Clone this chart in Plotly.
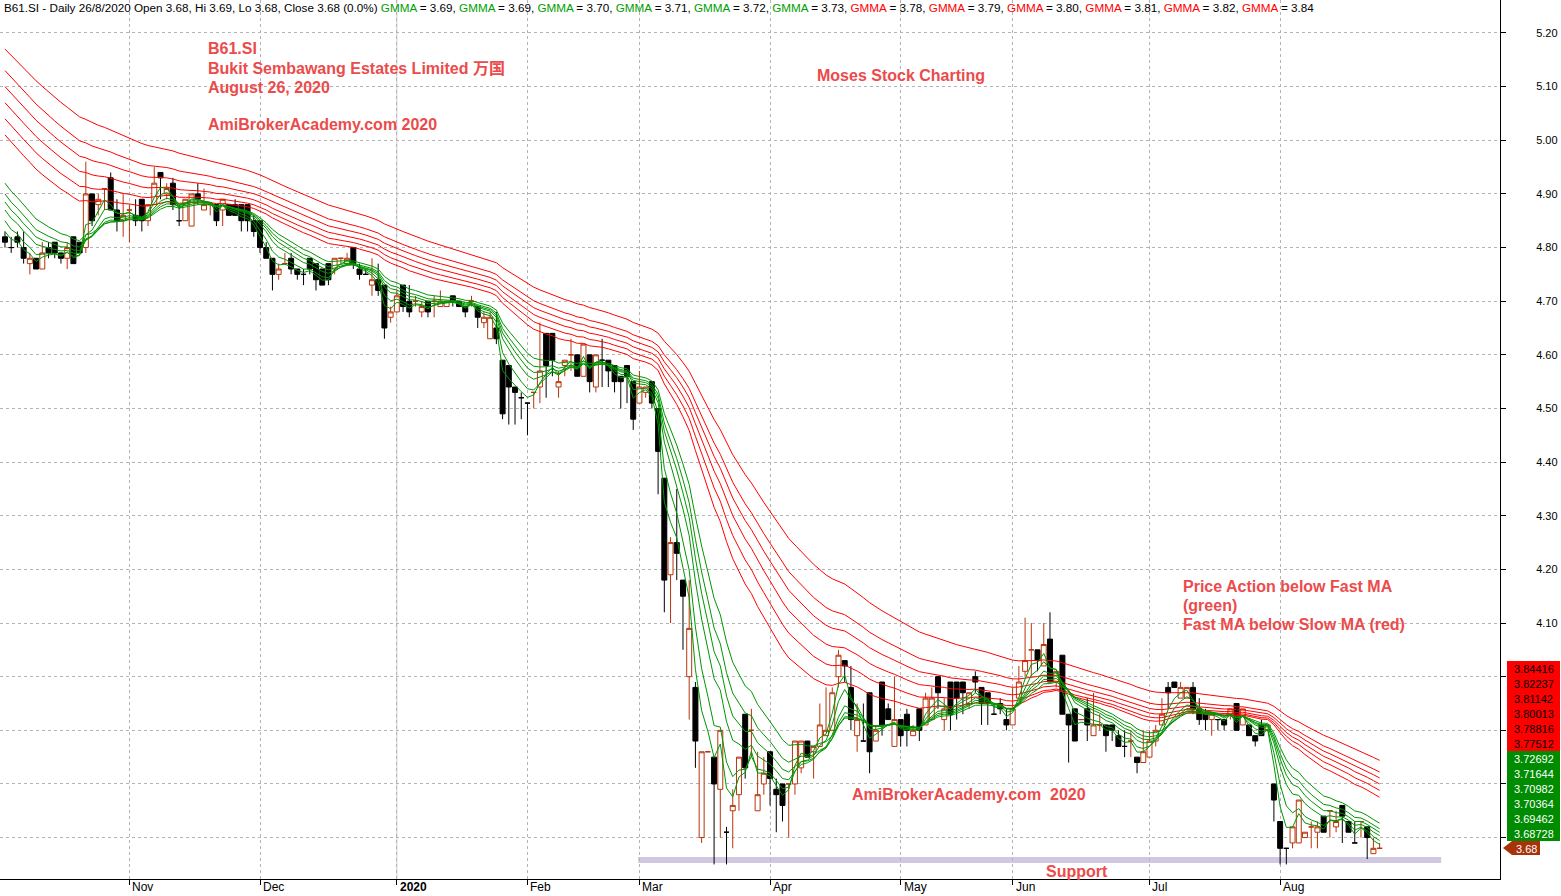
import plotly.graph_objects as go

# ---------------- data ----------------
opens = [
4.82,4.80,4.82,4.80,4.77,4.78,4.76,4.80,4.81,4.79,
4.78,4.82,4.81,4.80,4.90,4.88,4.91,4.93,4.87,4.85,
4.87,4.86,4.89,4.85,4.88,4.94,4.90,4.92,4.85,4.85,
4.84,4.90,4.87,4.88,4.88,4.87,4.88,4.88,4.88,4.88,
4.85,4.85,4.80,4.78,4.75,4.77,4.78,4.76,4.75,4.78,
4.77,4.76,4.77,4.76,4.78,4.77,4.80,4.76,4.75,4.73,
4.74,4.73,4.67,4.68,4.73,4.70,4.70,4.68,4.70,4.70,
4.69,4.69,4.71,4.70,4.69,4.70,4.69,4.66,4.63,4.65,
4.59,4.58,4.54,4.52,4.51,4.53,4.54,4.64,4.64,4.54,
4.58,4.60,4.60,4.56,4.60,4.54,4.59,4.59,4.58,4.56,
4.58,4.55,4.51,4.53,4.55,4.50,4.37,4.19,4.25,4.18,
4.00,3.98,3.70,3.86,3.85,3.79,3.71,3.75,3.78,3.93,
3.90,3.75,3.80,3.86,3.79,3.80,3.80,3.80,3.83,3.88,
3.86,3.87,3.89,3.90,4.00,4.03,3.98,3.89,3.88,3.97,
3.88,3.99,3.94,3.87,3.92,3.93,3.89,3.94,3.91,3.92,
4.00,3.92,3.99,3.99,3.99,3.95,4.00,3.98,3.97,3.93,
3.95,3.92,3.91,3.96,4.01,4.05,4.05,4.02,4.07,3.99,
4.04,3.93,3.94,3.92,3.94,3.89,3.91,3.91,3.91,3.89,
3.87,3.88,3.85,3.84,3.85,3.88,3.91,3.98,3.99,3.96,
3.96,3.98,3.94,3.93,3.92,3.92,3.92,3.93,3.95,3.91,
3.91,3.89,3.91,3.90,3.80,3.73,3.68,3.69,3.69,3.70,
3.72,3.71,3.74,3.75,3.72,3.76,3.73,3.69,3.73,3.72,
3.67,3.68]

highs = [
4.83,4.82,4.83,4.83,4.79,4.78,4.81,4.81,4.81,4.79,
4.81,4.82,4.81,4.96,4.90,4.90,4.91,4.94,4.89,4.90,
4.88,4.89,4.89,4.88,4.95,4.94,4.92,4.93,4.88,4.89,
4.90,4.92,4.91,4.88,4.88,4.89,4.88,4.89,4.88,4.88,
4.86,4.85,4.81,4.78,4.77,4.79,4.79,4.76,4.76,4.78,
4.77,4.76,4.77,4.78,4.78,4.79,4.80,4.77,4.76,4.78,
4.77,4.73,4.69,4.72,4.73,4.73,4.71,4.70,4.70,4.71,
4.72,4.70,4.71,4.70,4.69,4.71,4.69,4.68,4.68,4.68,
4.59,4.58,4.54,4.53,4.51,4.53,4.66,4.64,4.64,4.57,
4.59,4.63,4.60,4.62,4.60,4.60,4.63,4.59,4.58,4.56,
4.58,4.55,4.57,4.54,4.55,4.50,4.37,4.26,4.35,4.18,
4.18,3.99,3.86,3.86,3.85,3.90,3.72,3.79,3.85,3.93,
3.94,3.86,3.85,3.86,3.81,3.80,3.80,3.88,3.88,3.88,
3.87,3.95,3.98,3.98,4.05,4.03,4.02,3.95,3.95,3.97,
3.91,3.99,3.95,4.00,3.92,3.94,3.91,3.94,3.97,3.98,
4.00,3.96,3.99,3.99,3.99,3.97,4.01,3.98,3.97,3.95,
3.96,3.94,3.98,4.02,4.11,4.10,4.05,4.10,4.12,4.01,
4.04,3.93,3.94,3.92,3.96,3.97,3.93,3.91,3.91,3.90,
3.90,3.90,3.85,3.90,3.90,3.91,3.96,3.99,3.99,3.99,
3.98,3.99,3.96,3.94,3.93,3.92,3.92,3.94,3.95,3.94,
3.91,3.89,3.92,3.91,3.80,3.73,3.68,3.72,3.77,3.71,
3.73,3.73,3.74,3.75,3.75,3.76,3.73,3.73,3.73,3.72,
3.70,3.69]

lows = [
4.80,4.79,4.80,4.77,4.75,4.76,4.76,4.78,4.78,4.77,
4.76,4.77,4.79,4.79,4.84,4.86,4.87,4.87,4.83,4.82,
4.81,4.84,4.83,4.84,4.88,4.89,4.89,4.87,4.84,4.85,
4.84,4.88,4.87,4.86,4.84,4.84,4.86,4.86,4.83,4.83,
4.82,4.79,4.78,4.72,4.74,4.77,4.75,4.74,4.73,4.75,
4.72,4.73,4.73,4.75,4.77,4.77,4.76,4.74,4.75,4.71,
4.71,4.63,4.66,4.68,4.68,4.67,4.69,4.67,4.67,4.67,
4.69,4.69,4.69,4.69,4.67,4.69,4.65,4.65,4.63,4.62,
4.48,4.47,4.47,4.48,4.45,4.50,4.51,4.52,4.56,4.52,
4.56,4.57,4.56,4.56,4.53,4.53,4.54,4.54,4.53,4.50,
4.51,4.46,4.51,4.52,4.50,4.34,4.12,4.10,4.18,4.05,
3.92,3.83,3.69,3.86,3.65,3.70,3.65,3.68,3.75,3.81,
3.85,3.75,3.78,3.76,3.71,3.73,3.70,3.78,3.82,3.85,
3.81,3.87,3.89,3.90,3.98,3.99,3.90,3.86,3.88,3.82,
3.88,3.89,3.92,3.87,3.87,3.87,3.89,3.88,3.91,3.92,
3.94,3.90,3.90,3.92,3.93,3.94,3.97,3.91,3.91,3.93,
3.93,3.90,3.91,3.96,4.00,4.00,4.01,4.02,3.99,3.98,
3.93,3.84,3.88,3.92,3.88,3.89,3.90,3.86,3.88,3.87,
3.85,3.85,3.82,3.84,3.85,3.87,3.91,3.94,3.98,3.96,
3.96,3.93,3.91,3.90,3.89,3.90,3.90,3.92,3.90,3.91,
3.89,3.87,3.89,3.90,3.73,3.65,3.65,3.68,3.69,3.70,
3.68,3.68,3.71,3.70,3.71,3.69,3.71,3.69,3.70,3.66,
3.67,3.68]

closes = [
4.81,4.80,4.81,4.78,4.78,4.76,4.79,4.79,4.79,4.78,
4.80,4.77,4.79,4.90,4.85,4.89,4.91,4.87,4.85,4.86,
4.87,4.85,4.85,4.88,4.92,4.93,4.91,4.88,4.85,4.89,
4.90,4.89,4.88,4.88,4.85,4.89,4.86,4.86,4.85,4.85,
4.83,4.80,4.78,4.75,4.76,4.77,4.76,4.75,4.75,4.76,
4.74,4.73,4.74,4.78,4.78,4.78,4.77,4.75,4.75,4.74,
4.72,4.65,4.68,4.71,4.69,4.68,4.70,4.69,4.68,4.70,
4.70,4.70,4.70,4.69,4.68,4.70,4.67,4.67,4.67,4.63,
4.49,4.54,4.53,4.52,4.51,4.53,4.57,4.58,4.59,4.55,
4.59,4.60,4.56,4.62,4.55,4.60,4.59,4.57,4.55,4.55,
4.56,4.48,4.54,4.54,4.51,4.42,4.18,4.25,4.23,4.15,
4.09,3.88,3.86,3.86,3.80,3.90,3.71,3.76,3.85,3.83,
3.90,3.78,3.82,3.81,3.78,3.76,3.80,3.88,3.88,3.85,
3.87,3.91,3.90,3.97,4.04,4.02,3.92,3.92,3.88,3.86,
3.90,3.91,3.92,3.92,3.89,3.90,3.90,3.90,3.96,3.96,
3.97,3.94,3.93,3.96,3.97,3.97,3.99,3.95,3.95,3.93,
3.94,3.91,3.94,3.99,4.03,4.05,4.03,4.06,3.99,4.01,
3.93,3.91,3.88,3.92,3.91,3.91,3.91,3.89,3.90,3.87,
3.87,3.88,3.84,3.86,3.88,3.90,3.93,3.97,3.98,3.98,
3.98,3.94,3.92,3.92,3.93,3.92,3.91,3.94,3.90,3.94,
3.89,3.88,3.89,3.91,3.77,3.68,3.68,3.72,3.77,3.71,
3.72,3.72,3.71,3.75,3.73,3.74,3.71,3.69,3.73,3.70,
3.68,3.68]

# trading bars per month, Oct 2019 .. Aug 2020
month_bar_counts = [20, 21, 22, 21, 18, 21, 21, 18, 22, 21, 17]
month_labels = ["Oct", "Nov", "Dec", "2020", "Feb", "Mar", "Apr", "May", "Jun", "Jul", "Aug"]

# GMMA periods and the average values at the first bar
fast_periods = [3, 5, 8, 10, 12, 15]
fast_start = [4.83, 4.85, 4.87, 4.885, 4.90, 4.92]
slow_periods = [30, 35, 40, 45, 50, 60]
slow_start = [5.01, 5.04, 5.07, 5.10, 5.13, 5.17]

header_gmma_fast = [3.69, 3.69, 3.70, 3.71, 3.72, 3.73]
header_gmma_slow = [3.78, 3.79, 3.80, 3.81, 3.82, 3.84]
label_slow = [3.84416, 3.82237, 3.81142, 3.80013, 3.78816, 3.77512]
label_fast = [3.72692, 3.71644, 3.70982, 3.70364, 3.69462, 3.68728]
last_close = 3.68

support_level = 3.658
support_from_bar = 101.8
support_to_bar = 230.9

y_ticks = [3.70, 3.80, 3.90, 4.00, 4.10, 4.20, 4.30, 4.40, 4.50, 4.60,
           4.70, 4.80, 4.90, 5.00, 5.10, 5.20]

# ---------------- styling ----------------
W, H = 1561, 896
ML, MR, MT, MB = 0, 61, 0, 17
PW, PH = W - ML - MR, H - MT - MB
FONT = "Liberation Sans, Arial, Noto Sans CJK SC, sans-serif"
UP = "#b8340a"
GREEN = "#009600"
RED = "#ff0000"
TXT_RED = "#ec4b4b"
GRID = "#b4b4b4"
BOX_TOP_PX = 661  # the value boxes on the right cover the axis labels below this


def px_x(x):
    return (x - ML) / PW


def px_y(y):
    return 1 - (y - MT) / PH


Y_LO, Y_HI = 3.6228, 5.2615


def val_to_px(v):
    return MT + (Y_HI - v) / (Y_HI - Y_LO) * PH


def ema(values, period, start):
    a = 2.0 / (period + 1)
    out = [start]
    for v in values[1:]:
        out.append(out[-1] + a * (v - out[-1]))
    return out


n = len(closes)
xs = list(range(n))

fig = go.Figure()
for p, s in zip(slow_periods, slow_start):
    fig.add_trace(go.Scatter(x=xs, y=ema(closes, p, s), mode="lines",
                             line=dict(color=RED, width=1), hoverinfo="skip"))
for p, s in zip(fast_periods, fast_start):
    fig.add_trace(go.Scatter(x=xs, y=ema(closes, p, s), mode="lines",
                             line=dict(color=GREEN, width=1), hoverinfo="skip"))

fig.add_trace(go.Candlestick(
    x=xs, open=opens, high=highs, low=lows, close=closes,
    increasing=dict(line=dict(color=UP, width=1), fillcolor="white"),
    decreasing=dict(line=dict(color="black", width=1), fillcolor="black"),
    whiskerwidth=0, hoverinfo="skip"))

month_starts = []
acc = 0
for c in month_bar_counts:
    month_starts.append(acc)
    acc += c
tick_pos = month_starts[1:]
tick_txt = month_labels[1:]
year_start = tick_pos[tick_txt.index("2020")]

# y labels hidden behind the value boxes are left blank
y_ticktext = [("%.2f" % v) if val_to_px(v) < BOX_TOP_PX - 6 else "" for v in y_ticks]

annotations = []
# header
hdr = ("B61.SI - Daily 26/8/2020 Open %.2f, Hi %.2f, Lo %.2f, Close %.2f (0.0%%) "
       % (opens[-1], highs[-1], lows[-1], closes[-1]))
parts = []
for v in header_gmma_fast:
    parts.append('<span style="color:%s">GMMA</span> = %.2f' % ("#00a000", v))
for v in header_gmma_slow:
    parts.append('<span style="color:%s">GMMA</span> = %.2f' % (RED, v))
hdr += ", ".join(parts)
annotations.append(dict(xref="paper", yref="paper", x=px_x(2), y=px_y(7),
                        xanchor="left", yanchor="middle", showarrow=False,
                        text=hdr, font=dict(size=11.7, color="black")))

# month labels
for p, t in zip(tick_pos, tick_txt):
    annotations.append(dict(xref="x", yref="paper", x=p, y=px_y(887),
                            xanchor="left", yanchor="middle", xshift=1, showarrow=False,
                            text=("<b>%s</b>" % t) if t == "2020" else t,
                            font=dict(size=12, color="black")))

# red commentary texts
texts = [
    ("B61.SI", 206, 48, "left"),
    ("Bukit Sembawang Estates Limited 万国", 206, 68, "left"),
    ("August 26, 2020", 206, 87, "left"),
    ("AmiBrokerAcademy.com 2020", 206, 125, "left"),
    ("Moses Stock Charting", 815, 76, "left"),
    ("Price Action below Fast MA", 1181, 586, "left"),
    ("(green)", 1181, 605, "left"),
    ("Fast MA below Slow MA (red)", 1181, 624, "left"),
    ("AmiBrokerAcademy.com&nbsp; 2020", 850, 794, "left"),
    ("Support", 1077, 871, "center"),
]
for t, x, y, anc in texts:
    annotations.append(dict(xref="paper", yref="paper", x=px_x(x), y=px_y(y),
                            xanchor=anc, yanchor="middle", showarrow=False,
                            text="<b>%s</b>" % t, font=dict(size=16, color=TXT_RED)))

shapes = [
    dict(type="line", xref="x", yref="paper", x0=year_start, x1=year_start, y0=0, y1=1,
         line=dict(color="#cfcfcf", width=1), layer="below"),
    dict(type="line", xref="x", yref="y", x0=support_from_bar, x1=support_to_bar,
         y0=support_level, y1=support_level, line=dict(color="#cfc8e0", width=6), layer="below"),
    dict(type="path", xref="paper", yref="paper",
         path="M %f %f L %f %f L %f %f L %f %f L %f %f Z" % (
             px_x(1503), px_y(848), px_x(1512), px_y(841), px_x(1540), px_y(841),
             px_x(1540), px_y(855), px_x(1512), px_y(855)),
         fillcolor="#a8320a", line=dict(width=0)),
]

# right side value boxes
for k, v in enumerate(label_slow + label_fast):
    top = BOX_TOP_PX + 15 * k
    is_slow = k < len(label_slow)
    shapes.append(dict(type="rect", xref="paper", yref="paper",
                       x0=px_x(1507), x1=px_x(1560), y0=px_y(top), y1=px_y(top + 15),
                       fillcolor="#ff0000" if is_slow else "#008c00", line=dict(width=0)))
    annotations.append(dict(xref="paper", yref="paper", x=px_x(1533.5), y=px_y(top + 7.5),
                            xanchor="center", yanchor="middle", showarrow=False,
                            text="%.5f" % v, borderpad=0, height=13,
                            font=dict(size=11, color="black" if is_slow else "white")))
annotations.append(dict(xref="paper", yref="paper", x=px_x(1526), y=px_y(848),
                        xanchor="center", yanchor="middle", showarrow=False, borderpad=0,
                        height=13,
                        text="%.2f" % last_close, font=dict(size=11, color="white")))

fig.update_layout(
    width=W, height=H, margin=dict(l=ML, r=MR, t=MT, b=MB, pad=0),
    paper_bgcolor="white", plot_bgcolor="white", showlegend=False,
    boxgap=0.2, boxgroupgap=0,
    font=dict(family=FONT, size=12, color="black"),
    xaxis=dict(range=[-0.8, 240.35], tickvals=tick_pos, showticklabels=False,
               ticks="outside", ticklen=5, tickcolor="black",
               showgrid=True, gridcolor=GRID, griddash="dot", gridwidth=1,
               showline=True, linecolor="black", linewidth=1, zeroline=False,
               rangeslider=dict(visible=False), fixedrange=True),
    yaxis=dict(side="right", range=[Y_LO, Y_HI], tickvals=y_ticks, ticktext=y_ticktext,
               ticks="outside", ticklen=5, tickcolor="black",
               showgrid=True, gridcolor=GRID, griddash="dot", gridwidth=1,
               showline=True, linecolor="black", linewidth=1, zeroline=False,
               tickfont=dict(size=11), ticklabelstandoff=28, fixedrange=True),
    annotations=annotations, shapes=shapes,
)

fig.write_html("out.html", config={"displayModeBar": False},
               post_script="document.body.style.margin='0';")
